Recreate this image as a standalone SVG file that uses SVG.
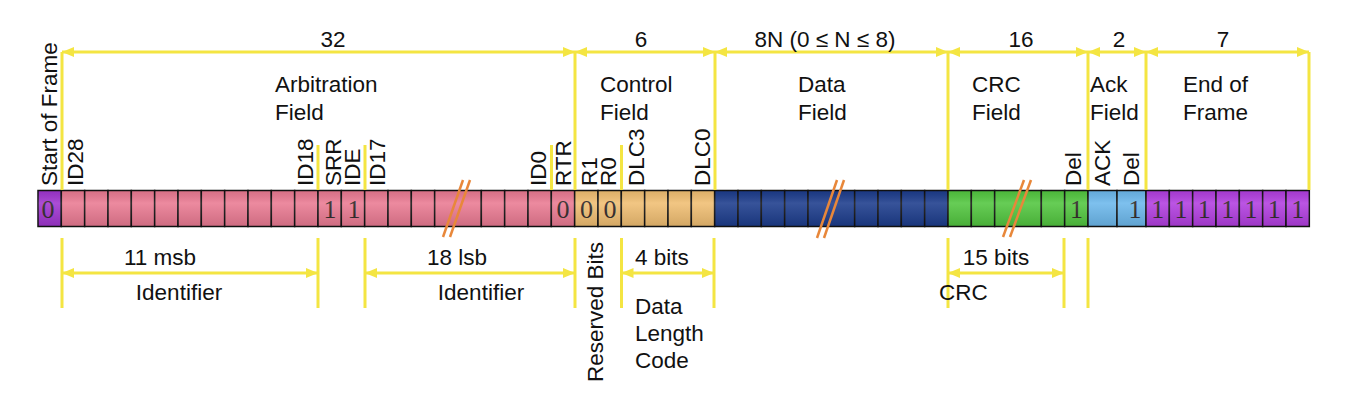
<svg xmlns="http://www.w3.org/2000/svg" width="1348" height="406" viewBox="0 0 1348 406">
<defs>
<style>
.t{font-family:"Liberation Sans",Arial,sans-serif;font-size:22.5px;fill:#111}
.m{text-anchor:middle}
.d{font-family:"Liberation Serif","Times New Roman",serif;font-size:26px;fill:#2a2222;text-anchor:middle}
.y{stroke:#F4E542;stroke-width:3;fill:none}
.ya{stroke:#F4E542;stroke-width:3;fill:none;marker-start:url(#ah);marker-end:url(#ah)}
.c{stroke:#111;stroke-width:1.5}
.sof{fill:#A035D0}.pk{fill:#EA7A92}.tn{fill:#F0BE72}.nv{fill:#1C3C8C}.gr{fill:#52C63F}.lb{fill:#6CB8EC}.eof{fill:#B23EE0}
.sl{stroke:#E8873A;stroke-width:2.5}
</style>
<marker id="ah" viewBox="0 0 12 10" refX="12" refY="5" markerWidth="12" markerHeight="10" markerUnits="userSpaceOnUse" orient="auto-start-reverse">
<path d="M0,0 L12,5 L0,10 z" fill="#F4E542"/>
</marker>
<linearGradient id="shade" x1="0" y1="0" x2="0" y2="1">
<stop offset="0" stop-color="#000" stop-opacity="0.08"/>
<stop offset="0.35" stop-color="#fff" stop-opacity="0.12"/>
<stop offset="1" stop-color="#000" stop-opacity="0.12"/>
</linearGradient>
</defs>
<rect width="1348" height="406" fill="#fff"/>

<g id="sof">
<rect class="c sof" x="38" y="190.5" width="23.33" height="36"/>
<text class="d" x="48" y="218">0</text>
<text class="t" transform="translate(57,186) rotate(-90)">Start of Frame</text>
</g>

<g id="arbitration">
<rect class="c pk" x="61.33" y="190.5" width="23.33" height="36"/>
<rect class="c pk" x="84.67" y="190.5" width="23.33" height="36"/>
<rect class="c pk" x="108" y="190.5" width="23.33" height="36"/>
<rect class="c pk" x="131.33" y="190.5" width="23.33" height="36"/>
<rect class="c pk" x="154.67" y="190.5" width="23.33" height="36"/>
<rect class="c pk" x="178" y="190.5" width="23.33" height="36"/>
<rect class="c pk" x="201.33" y="190.5" width="23.33" height="36"/>
<rect class="c pk" x="224.67" y="190.5" width="23.33" height="36"/>
<rect class="c pk" x="248" y="190.5" width="23.33" height="36"/>
<rect class="c pk" x="271.33" y="190.5" width="23.33" height="36"/>
<rect class="c pk" x="294.67" y="190.5" width="23.33" height="36"/>
<rect class="c pk" x="318" y="190.5" width="23.33" height="36"/>
<rect class="c pk" x="341.33" y="190.5" width="23.33" height="36"/>
<rect class="c pk" x="364.67" y="190.5" width="23.33" height="36"/>
<rect class="c pk" x="388" y="190.5" width="23.33" height="36"/>
<rect class="c pk" x="411.33" y="190.5" width="23.33" height="36"/>
<rect class="c pk" x="434.67" y="190.5" width="46.67" height="36"/>
<rect class="c pk" x="481.33" y="190.5" width="23.33" height="36"/>
<rect class="c pk" x="504.67" y="190.5" width="23.33" height="36"/>
<rect class="c pk" x="528" y="190.5" width="23.33" height="36"/>
<rect class="c pk" x="551.33" y="190.5" width="23.33" height="36"/>
<text class="d" x="330" y="218">1</text>
<text class="d" x="354" y="218">1</text>
<text class="d" x="563" y="218">0</text>
<text class="t" x="275" y="92">Arbitration</text>
<text class="t" x="275" y="120">Field</text>
<text class="t" transform="translate(83,186) rotate(-90)">ID28</text>
<text class="t" transform="translate(313,186) rotate(-90)">ID18</text>
<text class="t" transform="translate(341,186) rotate(-90)">SRR</text>
<text class="t" transform="translate(360,186) rotate(-90)">IDE</text>
<text class="t" transform="translate(385,186) rotate(-90)">ID17</text>
<text class="t" transform="translate(546,186) rotate(-90)">ID0</text>
<text class="t" transform="translate(571,186) rotate(-90)">RTR</text>
</g>

<g id="control">
<rect class="c tn" x="574.67" y="190.5" width="23.33" height="36"/>
<rect class="c tn" x="598" y="190.5" width="23.33" height="36"/>
<rect class="c tn" x="621.33" y="190.5" width="23.33" height="36"/>
<rect class="c tn" x="644.67" y="190.5" width="23.33" height="36"/>
<rect class="c tn" x="668" y="190.5" width="23.33" height="36"/>
<rect class="c tn" x="691.33" y="190.5" width="23.33" height="36"/>
<text class="d" x="586.5" y="218">0</text>
<text class="d" x="610" y="218">0</text>
<text class="t" x="600" y="92">Control</text>
<text class="t" x="600" y="120">Field</text>
<text class="t" transform="translate(597,186) rotate(-90)">R1</text>
<text class="t" transform="translate(616,186) rotate(-90)">R0</text>
<text class="t" transform="translate(644,186) rotate(-90)">DLC3</text>
<text class="t" transform="translate(710,186) rotate(-90)">DLC0</text>
</g>

<g id="data">
<rect class="c nv" x="714.67" y="190.5" width="23.33" height="36"/>
<rect class="c nv" x="738" y="190.5" width="23.33" height="36"/>
<rect class="c nv" x="761.33" y="190.5" width="23.33" height="36"/>
<rect class="c nv" x="784.67" y="190.5" width="23.33" height="36"/>
<rect class="c nv" x="808" y="190.5" width="46.67" height="36"/>
<rect class="c nv" x="854.67" y="190.5" width="23.33" height="36"/>
<rect class="c nv" x="878" y="190.5" width="23.33" height="36"/>
<rect class="c nv" x="901.33" y="190.5" width="23.33" height="36"/>
<rect class="c nv" x="924.67" y="190.5" width="23.33" height="36"/>
<text class="t" x="798" y="92">Data</text>
<text class="t" x="798" y="120">Field</text>
</g>

<g id="crc">
<rect class="c gr" x="948" y="190.5" width="23.33" height="36"/>
<rect class="c gr" x="971.33" y="190.5" width="23.33" height="36"/>
<rect class="c gr" x="994.67" y="190.5" width="46.67" height="36"/>
<rect class="c gr" x="1041.33" y="190.5" width="23.33" height="36"/>
<rect class="c gr" x="1064.67" y="190.5" width="23.33" height="36"/>
<text class="d" x="1076.5" y="218">1</text>
<text class="t" x="972" y="92">CRC</text>
<text class="t" x="972" y="120">Field</text>
<text class="t" transform="translate(1081,186) rotate(-90)">Del</text>
</g>

<g id="ack">
<rect class="c lb" x="1088" y="190.5" width="29" height="36"/>
<rect class="c lb" x="1117" y="190.5" width="29" height="36"/>
<text class="d" x="1135" y="218">1</text>
<text class="t" x="1090" y="92">Ack</text>
<text class="t" x="1090" y="120">Field</text>
<text class="t" transform="translate(1110,186) rotate(-90)">ACK</text>
<text class="t" transform="translate(1139,186) rotate(-90)">Del</text>
</g>

<g id="eof">
<rect class="c eof" x="1146" y="190.5" width="23.33" height="36"/>
<rect class="c eof" x="1169.33" y="190.5" width="23.33" height="36"/>
<rect class="c eof" x="1192.67" y="190.5" width="23.33" height="36"/>
<rect class="c eof" x="1216" y="190.5" width="23.33" height="36"/>
<rect class="c eof" x="1239.33" y="190.5" width="23.33" height="36"/>
<rect class="c eof" x="1262.67" y="190.5" width="23.33" height="36"/>
<rect class="c eof" x="1286" y="190.5" width="23.33" height="36"/>
<text class="d" x="1157.7" y="218">1</text>
<text class="d" x="1181" y="218">1</text>
<text class="d" x="1204.3" y="218">1</text>
<text class="d" x="1227.7" y="218">1</text>
<text class="d" x="1251" y="218">1</text>
<text class="d" x="1274.3" y="218">1</text>
<text class="d" x="1297.7" y="218">1</text>
<text class="t" x="1183" y="92">End of</text>
<text class="t" x="1183" y="120">Frame</text>
</g>

<rect x="38" y="190.5" width="1271.33" height="36" fill="url(#shade)" pointer-events="none"/>

<g id="breaks">
<line class="sl" x1="443" y1="237" x2="463" y2="180"/>
<line class="sl" x1="450" y1="237" x2="470" y2="180"/>
<line class="sl" x1="817" y1="238" x2="837" y2="180"/>
<line class="sl" x1="824" y1="238" x2="844" y2="180"/>
<line class="sl" x1="1003" y1="237" x2="1024" y2="180"/>
<line class="sl" x1="1010" y1="237" x2="1031" y2="180"/>
</g>

<g id="connectors">
<line class="ya" x1="62" y1="52" x2="575" y2="52"/>
<line class="ya" x1="575" y1="52" x2="715" y2="52"/>
<line class="ya" x1="715" y1="52" x2="948" y2="52"/>
<line class="ya" x1="948" y1="52" x2="1088" y2="52"/>
<line class="ya" x1="1088" y1="52" x2="1146" y2="52"/>
<line class="ya" x1="1146" y1="52" x2="1309" y2="52"/>
<path class="y" d="M62,52V190 M575,52V190 M715,52V190 M948,52V190 M1088,52V190 M1146,52V190 M1309,52V190"/>
<path class="y" d="M318,145V190 M365,145V190 M551.5,145V190 M621.5,145V190"/>
<path class="y" d="M62,238V308 M318,238V308 M365,238V308 M575,238V308 M621.5,238V308 M714,238V308 M948,238V308 M1064,238V308 M1088,238V308"/>
<line class="ya" x1="62" y1="273" x2="318" y2="273"/>
<line class="ya" x1="365" y1="273" x2="575" y2="273"/>
<line class="ya" x1="621.5" y1="273" x2="714" y2="273"/>
<line class="ya" x1="948" y1="273" x2="1064" y2="273"/>
</g>

<g id="dimension-labels">
<text class="t m" x="333" y="47">32</text>
<text class="t m" x="641" y="47">6</text>
<text class="t m" x="825" y="47">8N (0 ≤ N ≤ 8)</text>
<text class="t m" x="1021" y="47">16</text>
<text class="t m" x="1119" y="47">2</text>
<text class="t m" x="1223" y="47">7</text>
<text class="t m" x="160" y="265">11 msb</text>
<text class="t m" x="179" y="300">Identifier</text>
<text class="t m" x="457" y="265">18 lsb</text>
<text class="t m" x="481" y="300">Identifier</text>
<text class="t" transform="translate(603,382) rotate(-90)">Reserved Bits</text>
<text class="t" x="635" y="265">4 bits</text>
<text class="t" x="635" y="314">Data</text>
<text class="t" x="635" y="341">Length</text>
<text class="t" x="635" y="368">Code</text>
<text class="t m" x="996" y="265">15 bits</text>
<text class="t" x="939" y="300">CRC</text>
</g>
</svg>
